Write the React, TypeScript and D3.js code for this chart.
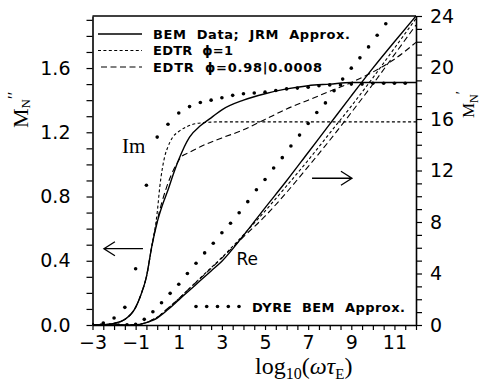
import React, { useEffect, useRef } from 'react';
import * as d3 from 'd3';

// imaginary part, left axis (M_N'')
const bemImX = [-3, -2.5, -2, -1.5, -1, -0.75, -0.5, -0.25, 0, 0.25, 0.5, 0.75, 1, 1.5, 2, 2.5, 3, 4, 5, 6, 7, 8, 9, 10, 11, 12];
const bemIm = [0, 0.002, 0.01, 0.035, 0.11, 0.19, 0.3, 0.49, 0.64, 0.75, 0.84, 0.94, 1.03, 1.17, 1.24, 1.29, 1.34, 1.4, 1.44, 1.47, 1.49, 1.5, 1.51, 1.51, 1.51, 1.51];

const edtr1ImX = [-3, -2.5, -2, -1.5, -1, -0.75, -0.5, -0.25, 0, 0.12, 0.35, 0.5, 0.72, 1, 1.37, 2, 3, 12];
const edtr1Im = [0, 0.002, 0.01, 0.035, 0.11, 0.19, 0.3, 0.49, 0.7, 0.86, 1.05, 1.11, 1.17, 1.205, 1.235, 1.258, 1.265, 1.265];

const edtr2ImX = [-3, -2.5, -2, -1.5, -1, -0.75, -0.5, -0.25, 0, 0.44, 0.81, 1.14, 1.5, 2, 3, 4, 5, 6, 7, 8, 9, 10, 11, 12];
const edtr2Im = [0, 0.002, 0.01, 0.035, 0.11, 0.19, 0.3, 0.49, 0.65, 0.86, 0.98, 1.05, 1.075, 1.11, 1.165, 1.215, 1.28, 1.345, 1.4, 1.455, 1.51, 1.575, 1.655, 1.76];

// real part, right axis (M_N')
const reX = [-3, -1.5, -1, -0.75, -0.5, -0.25, 0, 0.5, 1, 1.5, 2, 2.5, 3, 4, 5, 6, 7, 8, 9, 10, 11, 12];
const bemRe = [0, 0, 0.02, 0.07, 0.18, 0.34, 0.54, 1.2, 1.95, 2.7, 3.45, 4.2, 4.95, 6.95, 9.1, 11.2, 13.4, 15.6, 17.8, 19.95, 22.0, 24.0];
const edtr1Re = [0, 0, 0.02, 0.08, 0.2, 0.38, 0.6, 1.3, 2.05, 2.85, 3.65, 4.45, 5.25, 7.0, 8.85, 10.8, 12.8, 14.9, 17.0, 19.2, 21.5, 23.8];
const edtr2Re = [0, 0, 0.02, 0.08, 0.2, 0.38, 0.6, 1.3, 2.05, 2.85, 3.62, 4.4, 5.2, 6.85, 8.45, 10.3, 12.3, 14.35, 16.5, 18.7, 21.0, 23.3];

// DYRE BEM approx (dots)
const dyreImX = [-3, -2.5, -2, -1.5, -1, -0.5, 0, 0.5, 1, 1.5, 2, 2.5, 3, 3.5, 4, 4.5, 5, 5.5, 6, 6.5, 7, 7.5, 8, 8.5, 9, 9.5, 10, 10.5, 11, 11.5];
const dyreIm = [0.003, 0.012, 0.044, 0.11, 0.35, 0.87, 1.17, 1.25, 1.32, 1.36, 1.385, 1.4, 1.415, 1.43, 1.44, 1.445, 1.45, 1.46, 1.47, 1.475, 1.48, 1.49, 1.495, 1.495, 1.5, 1.5, 1.505, 1.505, 1.505, 1.505];
const dyreReX = [-3, -2.6, -2.2, -1.8, -1.4, -1.0, -0.6, -0.2, 0.2, 0.6, 1.0, 1.4, 1.8, 2.2, 2.6, 3.0, 3.4, 3.8, 4.2, 4.6, 5.0, 5.4, 5.8, 6.2, 6.6, 7.0, 7.4, 7.8, 8.2, 8.6, 9.0, 9.4, 9.8, 10.2, 10.6];
const dyreRe = [0, 0, 0, 0, 0.02, 0.05, 0.44, 1.03, 1.73, 2.46, 3.16, 4.0, 4.8, 5.6, 6.35, 7.17, 7.9, 8.72, 9.58, 10.5, 11.3, 12.2, 13.0, 13.9, 14.75, 15.65, 16.5, 17.25, 18.2, 19.1, 19.95, 20.75, 21.6, 22.5, 23.4];

const legendLabels = ['BEM  Data;  JRM  Approx.', 'EDTR  \u03d5=1', 'EDTR  \u03d5=0.98|0.0008'];
const legendWidths = [197, 80, 169];
const legendDash = ['none', '3,2.4', '6,3.5'];
const dyreLabel = 'DYRE  BEM  Approx.';

const W = 482;
const H = 381;
const left = 92.5;
const right = 416;
const top = 16;
const bottom = 325;
const numFont = 'DejaVu Sans';
const serif = '"Liberation Serif", "DejaVu Serif", serif';

const App: React.FC = () => {
  const svgRef = useRef<SVGSVGElement | null>(null);

  useEffect(() => {
    const svg = d3.select(svgRef.current);
    svg.selectAll('*').remove();

    const x = d3.scaleLinear().domain([-3, 12]).range([left, right]);
    const yIm = d3.scaleLinear().domain([0, 1.924]).range([bottom, top]);
    const yRe = d3.scaleLinear().domain([0, 24]).range([bottom, top]);

    svg.append('defs').append('clipPath').attr('id', 'plotClip')
      .append('rect').attr('x', left).attr('y', top - 1).attr('width', right - left).attr('height', bottom - top + 1);

    // axes
    const styleAxis = (g: d3.Selection<SVGGElement, unknown, null, undefined>) => {
      g.attr('font-family', numFont).attr('font-size', 19);
      g.selectAll('.domain').attr('stroke', '#000').attr('stroke-width', 1.6);
      g.selectAll('.tick line').attr('stroke', '#000').attr('stroke-width', 1.2);
      g.selectAll('.tick text').attr('fill', '#000');
    };

    const xTicks = d3.range(-3, 12.01, 0.5);
    svg.append('g')
      .attr('transform', `translate(0,${bottom})`)
      .call(d3.axisBottom(x).tickValues(xTicks).tickSize(5).tickSizeOuter(0).tickPadding(6)
        .tickFormat((d) => {
          const v = +d;
          return Number.isInteger(v) && Math.abs(v) % 2 === 1 ? d3.format('')(v) : '';
        }))
      .call(styleAxis);

    const imTicks = d3.range(0, 19.5, 1).map((d) => d / 10);
    svg.append('g')
      .attr('transform', `translate(${left},0)`)
      .call(d3.axisLeft(yIm).tickValues(imTicks).tickSize(6).tickSizeOuter(0).tickPadding(16)
        .tickFormat((d) => (Math.round(+d * 10) % 4 === 0 ? d3.format('.1f')(+d) : '')))
      .call(styleAxis);

    const reTicks = d3.range(0, 25, 1);
    svg.append('g')
      .attr('transform', `translate(${right},0)`)
      .call(d3.axisRight(yRe).tickValues(reTicks).tickSize(6).tickSizeOuter(0).tickPadding(8)
        .tickFormat((d) => (+d % 4 === 0 ? String(d) : '')))
      .call(styleAxis);

    svg.append('line')
      .attr('x1', left).attr('x2', right).attr('y1', top).attr('y2', top)
      .attr('stroke', '#000').attr('stroke-width', 1.6);

    // curves
    const plot = svg.append('g').attr('clip-path', 'url(#plotClip)');
    const drawLine = (xs: number[], ys: number[], yScale: d3.ScaleLinear<number, number>, dash: string, w: number) => {
      const line = d3.line<number>()
        .x((_, i) => x(xs[i]))
        .y((d) => yScale(d))
        .curve(d3.curveMonotoneX);
      plot.append('path')
        .datum(ys)
        .attr('fill', 'none')
        .attr('stroke', '#000')
        .attr('stroke-width', w)
        .attr('stroke-dasharray', dash)
        .attr('d', line as any);
    };

    drawLine(bemImX, bemIm, yIm, 'none', 1.4);
    drawLine(edtr1ImX, edtr1Im, yIm, legendDash[1], 1.1);
    drawLine(edtr2ImX, edtr2Im, yIm, legendDash[2], 1.1);
    drawLine(reX, bemRe, yRe, 'none', 1.4);
    drawLine(reX, edtr1Re, yRe, legendDash[1], 1.1);
    drawLine(reX, edtr2Re, yRe, legendDash[2], 1.1);

    plot.append('g').selectAll('circle')
      .data(dyreIm)
      .join('circle')
      .attr('cx', (_, i) => x(dyreImX[i]))
      .attr('cy', (d) => yIm(d))
      .attr('r', 1.8)
      .attr('fill', '#000');

    plot.append('g').selectAll('circle')
      .data(dyreRe)
      .join('circle')
      .attr('cx', (_, i) => x(dyreReX[i]))
      .attr('cy', (d) => yRe(d))
      .attr('r', 1.8)
      .attr('fill', '#000');

    // legend
    const lg = svg.append('g');
    legendLabels.forEach((label, i) => {
      const ly = 34 + i * 16.5;
      lg.append('line')
        .attr('x1', i === 2 ? 101 : 98).attr('x2', 142).attr('y1', ly).attr('y2', ly)
        .attr('stroke', '#000').attr('stroke-width', i === 0 ? 1.4 : 1.1)
        .attr('stroke-dasharray', legendDash[i]);
      lg.append('text')
        .attr('x', 153).attr('y', ly + 4.8)
        .attr('font-family', numFont).attr('font-weight', 'bold').attr('font-size', 13)
        .attr('textLength', legendWidths[i]).attr('lengthAdjust', 'spacing')
        .style('white-space', 'pre')
        .text(label);
    });

    const dyreLegendX = [196, 206.7, 217.5, 228.3, 239];
    lg.append('g').selectAll('circle')
      .data(dyreLegendX)
      .join('circle')
      .attr('cx', (d) => d).attr('cy', 306.5).attr('r', 1.8).attr('fill', '#000');
    lg.append('text')
      .attr('x', 252).attr('y', 311.5)
      .attr('font-family', numFont).attr('font-weight', 'bold').attr('font-size', 13)
      .attr('textLength', 153).attr('lengthAdjust', 'spacing')
      .style('white-space', 'pre')
      .text(dyreLabel);

    // annotations
    svg.append('text')
      .attr('x', x(-1.63)).attr('y', yIm(1.07))
      .attr('font-family', serif).attr('font-size', 21)
      .text('Im');
    svg.append('text')
      .attr('x', x(3.68)).attr('y', yRe(4.66))
      .attr('font-family', numFont).attr('font-size', 17)
      .text('Re');

    const arrow = (x1: number, x2: number, yy: number, dir: number) => {
      const tip = dir < 0 ? x1 : x2;
      svg.append('path')
        .attr('d', `M${x1},${yy}H${x2}M${tip - dir * 11},${yy - 7}L${tip},${yy}L${tip - dir * 11},${yy + 7}`)
        .attr('fill', 'none').attr('stroke', '#000').attr('stroke-width', 1.3);
    };
    arrow(x(-2.47), x(-0.66), yIm(0.475), -1);
    arrow(x(7.18), x(9.03), yRe(11.4), 1);

    // axis titles
    const lt = svg.append('text')
      .attr('transform', 'translate(28,128) rotate(-90)')
      .attr('font-family', serif).attr('font-size', 22);
    lt.append('tspan').text('M');
    lt.append('tspan').attr('font-size', 13).attr('dy', 2).text('N');
    lt.append('tspan').attr('font-size', 17).attr('dy', -11).text('\u2032\u2032');

    const rt = svg.append('text')
      .attr('transform', 'translate(474,118) rotate(-90)')
      .attr('font-family', serif).attr('font-size', 17);
    rt.append('tspan').text('M');
    rt.append('tspan').attr('font-size', 12).attr('dy', 4).text('N');
    rt.append('tspan').attr('font-size', 15).attr('dy', -12).text('\u2032');

    const xt = svg.append('text')
      .attr('x', 255).attr('y', 374)
      .attr('font-family', serif).attr('font-size', 24);
    xt.append('tspan').text('log');
    xt.append('tspan').attr('font-size', 16).attr('dy', 5).text('10');
    xt.append('tspan').attr('dy', -5).text('(');
    xt.append('tspan').attr('font-style', 'italic').text('\u03c9\u03c4');
    xt.append('tspan').attr('font-size', 15).attr('dy', 5).text('E');
    xt.append('tspan').attr('dy', -5).text(')');
  }, []);

  return (
    <svg
      ref={svgRef}
      width={W}
      height={H}
      style={{ position: 'absolute', left: 0, top: 0, background: '#fff' }}
    />
  );
};

export default App;
